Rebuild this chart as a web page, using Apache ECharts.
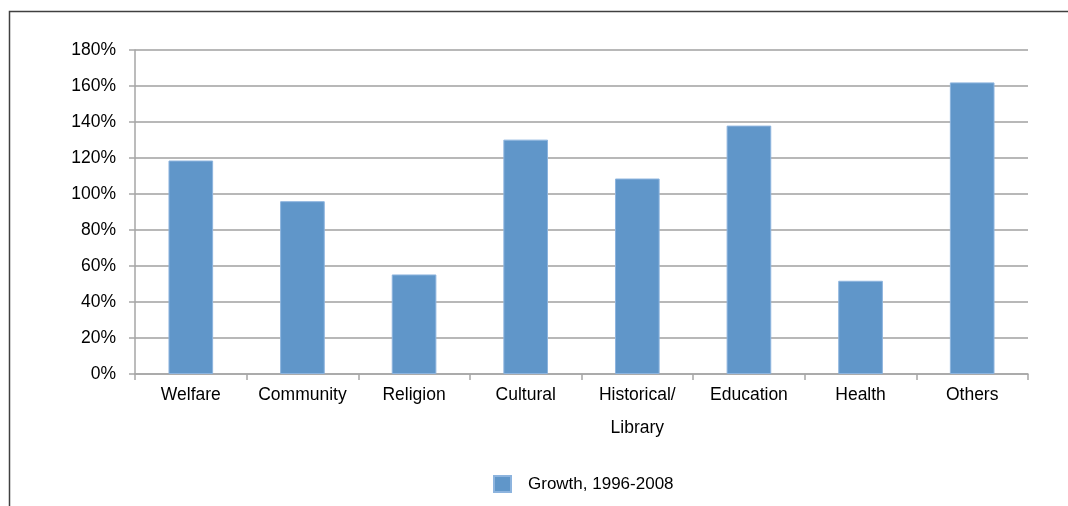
<!DOCTYPE html>
<html>
<head>
<meta charset="utf-8">
<script src="https://cdn.jsdelivr.net/npm/echarts@6/dist/echarts.min.js"></script>
<style>
html,body{margin:0;padding:0;background:#fff;}
#chart{width:1068px;height:506px;}
</style>
</head>
<body>
<div id="chart"></div>
<script>
const categories = ['Welfare', 'Community', 'Religion', 'Cultural', 'Historical/\nLibrary', 'Education', 'Health', 'Others'];
const growth = [118.6, 96, 55.3, 130.2, 108.6, 138, 51.8, 162];
const seriesName = 'Growth, 1996-2008';
const yTicks = { min: 0, max: 180, interval: 20 };

const chart = echarts.init(document.getElementById('chart'));
const font = '"Liberation Sans", Arial, sans-serif';
chart.setOption({
  animation: false,
  backgroundColor: '#ffffff',
  textStyle: { fontFamily: font },
  graphic: [{
    type: 'polyline',
    shape: { points: [[9.5, 506], [9.5, 11.5], [1068, 11.5]] },
    style: { stroke: '#404040', lineWidth: 1.5, fill: null },
    silent: true
  }],
  grid: { left: 135, right: 40, top: 50, bottom: 132, containLabel: false },
  legend: {
    data: [seriesName],
    top: 470,
    left: 488,
    icon: 'rect',
    itemWidth: 17,
    itemHeight: 16,
    textStyle: { fontFamily: font, fontSize: 17, color: '#000', padding: [0, 0, 0, 12] }
  },
  xAxis: {
    type: 'category',
    data: categories,
    axisLine: { show: true, lineStyle: { color: '#a6a6a6', width: 1.5 } },
    axisTick: { show: true, alignWithLabel: false, length: 6, lineStyle: { color: '#a6a6a6', width: 1.5 } },
    axisLabel: { color: '#000', fontFamily: font, fontSize: 17.5, margin: 5, lineHeight: 33, interval: 0 }
  },
  yAxis: {
    type: 'value',
    min: yTicks.min,
    max: yTicks.max,
    interval: yTicks.interval,
    axisLine: { show: true, lineStyle: { color: '#a6a6a6', width: 1.5 } },
    axisTick: { show: true, length: 6, lineStyle: { color: '#a6a6a6', width: 1.5 } },
    splitLine: { show: true, lineStyle: { color: '#a0a0a0', width: 1.5 } },
    axisLabel: { color: '#000', fontFamily: font, fontSize: 17.5, margin: 19, formatter: '{value}%' }
  },
  series: [{
    name: seriesName,
    type: 'bar',
    data: growth,
    barCategoryGap: '60%',
    itemStyle: { color: '#6096C9', borderColor: '#8DB4DE', borderWidth: 1 }
  }]
});
</script>
</body>
</html>
